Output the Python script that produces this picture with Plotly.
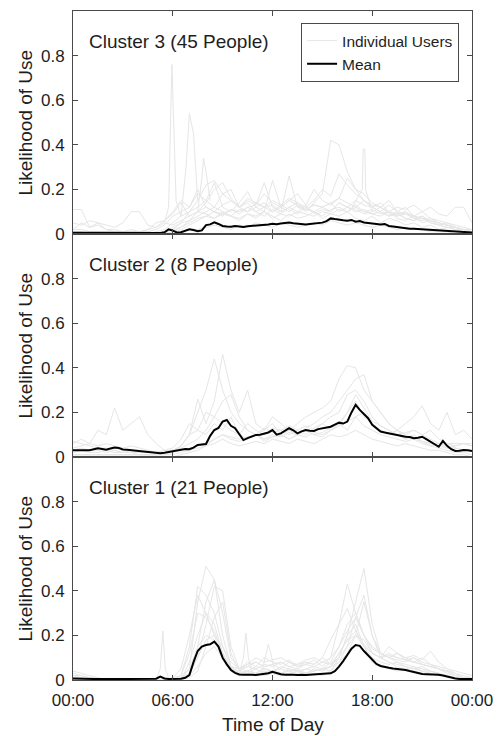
import numpy as np
import plotly.graph_objects as go
from plotly.subplots import make_subplots

# ---------------- DATA ----------------
x_tick_hours = [0, 6, 12, 18, 24]
x_tick_labels = ["00:00", "06:00", "12:00", "18:00", "00:00"]
y_tick_vals = [0, 0.2, 0.4, 0.6, 0.8]
y_tick_labels = ["0", "0.2", "0.4", "0.6", "0.8"]
cluster_titles = ["Cluster 3 (45 People)", "Cluster 2 (8 People)", "Cluster 1 (21 People)"]

# Means: 15-minute grid from 00:00 to 24:00 (97 values)
c3_mean = [0.006, 0.006, 0.005, 0.006, 0.005,
           0.005, 0.004, 0.005, 0.004,
           0.004, 0.004, 0.003, 0.004,
           0.004, 0.003, 0.004, 0.003,
           0.004, 0.003, 0.004, 0.004,
           0.005, 0.008, 0.021, 0.015,
           0.007, 0.008, 0.015, 0.021,
           0.018, 0.012, 0.016, 0.040,
           0.043, 0.052, 0.045, 0.036,
           0.034, 0.033, 0.036, 0.033,
           0.031, 0.035, 0.036, 0.040,
           0.038, 0.042, 0.043, 0.046,
           0.044, 0.047, 0.050, 0.051,
           0.048, 0.046, 0.043, 0.043,
           0.045, 0.047, 0.050, 0.051,
           0.058, 0.070, 0.067, 0.066,
           0.062, 0.060, 0.063, 0.055,
           0.058, 0.052, 0.050, 0.048,
           0.046, 0.043, 0.045, 0.036,
           0.034, 0.031, 0.028, 0.025,
           0.024, 0.023, 0.022, 0.021,
           0.019, 0.018, 0.016, 0.015,
           0.014, 0.012, 0.011, 0.010,
           0.009, 0.008, 0.008, 0.007]

c2_mean = [0.030, 0.031, 0.029, 0.030, 0.030,
           0.033, 0.039, 0.036, 0.033,
           0.038, 0.043, 0.040, 0.034,
           0.032, 0.030, 0.027, 0.024,
           0.022, 0.020, 0.018, 0.016,
           0.017, 0.019, 0.022, 0.027,
           0.029, 0.031, 0.036, 0.035,
           0.042, 0.054, 0.056, 0.058,
           0.095, 0.121, 0.130, 0.159,
           0.166, 0.140, 0.129, 0.100,
           0.076, 0.085, 0.091, 0.099,
           0.100, 0.105, 0.110, 0.121,
           0.100, 0.106, 0.118, 0.129,
           0.120, 0.106, 0.115, 0.121,
           0.118, 0.117, 0.125, 0.129,
           0.130, 0.136, 0.145, 0.154,
           0.150, 0.159, 0.200, 0.234,
           0.211, 0.190, 0.174, 0.144,
           0.130, 0.114, 0.110, 0.106,
           0.104, 0.099, 0.095, 0.091,
           0.090, 0.084, 0.086, 0.091,
           0.080, 0.069, 0.060, 0.046,
           0.072, 0.050, 0.035, 0.027,
           0.028, 0.031, 0.030, 0.027]

c1_mean = [0.007, 0.006, 0.006, 0.005, 0.005,
           0.005, 0.005, 0.004, 0.004,
           0.004, 0.004, 0.004, 0.004,
           0.004, 0.004, 0.004, 0.004,
           0.004, 0.004, 0.005, 0.006,
           0.015, 0.007, 0.005, 0.005,
           0.005, 0.006, 0.010, 0.022,
           0.080, 0.130, 0.150, 0.157,
           0.160, 0.172, 0.150, 0.100,
           0.070, 0.045, 0.032, 0.025,
           0.024, 0.022, 0.023, 0.022,
           0.024, 0.026, 0.030, 0.037,
           0.030, 0.026, 0.024, 0.022,
           0.023, 0.022, 0.024, 0.022,
           0.023, 0.024, 0.025, 0.025,
           0.028, 0.030, 0.040, 0.060,
           0.085, 0.112, 0.140, 0.157,
           0.153, 0.130, 0.112, 0.090,
           0.072, 0.063, 0.058, 0.055,
           0.052, 0.050, 0.047, 0.045,
           0.040, 0.035, 0.030, 0.027,
           0.026, 0.026, 0.025, 0.024,
           0.020, 0.015, 0.010, 0.007,
           0.005, 0.004, 0.004, 0.004]

# Individual users: 30-minute grid from 00:00 to 24:00 (49 values)
c3_u01 = [0.11, 0.11, 0.03, 0.04, 0.02, 0.02, 0.01, 0.02, 0.01, 0.02, 0.05, 0.06,
          0.09, 0.14, 0.08, 0.10, 0.09, 0.07, 0.10, 0.08, 0.06, 0.09, 0.07, 0.10,
          0.08, 0.06, 0.09, 0.07, 0.08, 0.10, 0.07, 0.09, 0.08, 0.10, 0.07, 0.06,
          0.08, 0.05, 0.07, 0.06, 0.04, 0.05, 0.03, 0.04, 0.02, 0.03, 0.02, 0.02, 0.01]
c3_u02 = [0.05, 0.04, 0.06, 0.05, 0.02, 0.01, 0.01, 0.01, 0.01, 0.02, 0.03, 0.06,
          0.10, 0.15, 0.12, 0.20, 0.12, 0.10, 0.08, 0.11, 0.09, 0.12, 0.10, 0.08,
          0.11, 0.09, 0.12, 0.10, 0.13, 0.09, 0.11, 0.10, 0.14, 0.12, 0.10, 0.11,
          0.09, 0.08, 0.10, 0.07, 0.06, 0.08, 0.05, 0.06, 0.04, 0.05, 0.03, 0.02, 0.02]
c3_u03 = [0.02, 0.02, 0.01, 0.01, 0.01, 0.01, 0.01, 0.01, 0.01, 0.01, 0.02, 0.04,
          0.08, 0.10, 0.12, 0.18, 0.15, 0.12, 0.18, 0.20, 0.12, 0.10, 0.14, 0.12,
          0.10, 0.13, 0.11, 0.09, 0.12, 0.10, 0.08, 0.11, 0.12, 0.10, 0.13, 0.10,
          0.09, 0.10, 0.08, 0.09, 0.07, 0.06, 0.07, 0.05, 0.04, 0.03, 0.03, 0.02, 0.02]
c3_u04 = [0.00, 0.01, 0.00, 0.00, 0.00, 0.00, 0.01, 0.00, 0.00, 0.00, 0.01, 0.02,
          0.05, 0.08, 0.10, 0.12, 0.15, 0.23, 0.12, 0.10, 0.14, 0.19, 0.12, 0.10,
          0.24, 0.12, 0.10, 0.13, 0.11, 0.10, 0.12, 0.14, 0.10, 0.12, 0.11, 0.09,
          0.10, 0.12, 0.09, 0.08, 0.10, 0.07, 0.08, 0.06, 0.05, 0.04, 0.03, 0.02, 0.01]
c3_u05 = [0.01, 0.00, 0.00, 0.00, 0.00, 0.00, 0.00, 0.00, 0.00, 0.00, 0.00, 0.01,
          0.03, 0.05, 0.06, 0.08, 0.10, 0.12, 0.10, 0.08, 0.11, 0.10, 0.12, 0.14,
          0.10, 0.12, 0.15, 0.13, 0.10, 0.14, 0.18, 0.42, 0.40, 0.28, 0.20, 0.15,
          0.12, 0.10, 0.13, 0.10, 0.09, 0.08, 0.07, 0.06, 0.05, 0.04, 0.03, 0.02, 0.02]
c3_u06 = [0.00, 0.00, 0.00, 0.00, 0.00, 0.00, 0.00, 0.00, 0.00, 0.00, 0.00, 0.00,
          0.02, 0.03, 0.05, 0.07, 0.08, 0.10, 0.09, 0.11, 0.10, 0.12, 0.13, 0.23,
          0.12, 0.10, 0.26, 0.12, 0.11, 0.13, 0.12, 0.14, 0.16, 0.25, 0.20, 0.18,
          0.14, 0.12, 0.15, 0.10, 0.12, 0.08, 0.10, 0.07, 0.06, 0.05, 0.04, 0.03, 0.02]
c3_u07 = [0.02, 0.05, 0.03, 0.05, 0.04, 0.03, 0.05, 0.10, 0.10, 0.04, 0.03, 0.05,
          0.04, 0.06, 0.08, 0.10, 0.12, 0.10, 0.13, 0.15, 0.12, 0.14, 0.10, 0.12,
          0.13, 0.10, 0.12, 0.14, 0.11, 0.13, 0.12, 0.10, 0.14, 0.12, 0.15, 0.13,
          0.12, 0.14, 0.10, 0.12, 0.11, 0.13, 0.10, 0.12, 0.09, 0.08, 0.12, 0.12, 0.05]
c3_u08 = [0.00, 0.00, 0.00, 0.00, 0.00, 0.00, 0.00, 0.00, 0.00, 0.00, 0.00, 0.01,
          0.02, 0.05, 0.10, 0.15, 0.22, 0.24, 0.18, 0.15, 0.12, 0.16, 0.14, 0.12,
          0.15, 0.13, 0.16, 0.14, 0.12, 0.15, 0.20, 0.17, 0.27, 0.22, 0.18, 0.15,
          0.13, 0.12, 0.10, 0.09, 0.10, 0.08, 0.07, 0.06, 0.05, 0.04, 0.03, 0.02, 0.01]
c3_u09 = [0.00, 0.00, 0.00, 0.00, 0.00, 0.00, 0.00, 0.00, 0.00, 0.00, 0.00, 0.00,
          0.00, 0.01, 0.02, 0.02, 0.03, 0.04, 0.03, 0.02, 0.04, 0.03, 0.05, 0.04,
          0.03, 0.05, 0.04, 0.03, 0.04, 0.05, 0.04, 0.06, 0.05, 0.04, 0.05, 0.04,
          0.03, 0.04, 0.03, 0.02, 0.03, 0.02, 0.02, 0.01, 0.01, 0.01, 0.00, 0.00, 0.00]
c3_u10 = [0.01, 0.01, 0.00, 0.00, 0.00, 0.00, 0.00, 0.00, 0.00, 0.00, 0.00, 0.00,
          0.01, 0.02, 0.04, 0.06, 0.08, 0.07, 0.09, 0.08, 0.07, 0.09, 0.08, 0.10,
          0.07, 0.09, 0.08, 0.10, 0.09, 0.08, 0.10, 0.09, 0.11, 0.10, 0.12, 0.10,
          0.11, 0.09, 0.10, 0.08, 0.09, 0.07, 0.06, 0.07, 0.05, 0.04, 0.03, 0.02, 0.01]
c3_u11 = [0.00, 0.00, 0.00, 0.00, 0.00, 0.00, 0.00, 0.00, 0.00, 0.00, 0.00, 0.00,
          0.01, 0.03, 0.06, 0.10, 0.14, 0.20, 0.23, 0.16, 0.12, 0.15, 0.13, 0.18,
          0.14, 0.12, 0.15, 0.18, 0.13, 0.20, 0.15, 0.13, 0.16, 0.14, 0.12, 0.15,
          0.12, 0.10, 0.08, 0.10, 0.07, 0.06, 0.08, 0.05, 0.04, 0.03, 0.02, 0.01, 0.00]

# Narrow spikes of individual users (hours, values)
c3_spike1_h = [5.5, 5.75, 5.95, 6.2, 6.5]
c3_spike1_v = [0.05, 0.12, 0.76, 0.15, 0.08]
c3_spike2_h = [6.5, 6.8, 7.0, 7.25, 7.5]
c3_spike2_v = [0.08, 0.30, 0.54, 0.45, 0.15]
c3_spike3_h = [7.5, 7.75, 7.85, 8.0, 8.25]
c3_spike3_v = [0.10, 0.25, 0.34, 0.28, 0.15]
c3_spike4_h = [16.8, 17.4, 17.45, 17.55, 17.6, 18.0]
c3_spike4_v = [0.12, 0.20, 0.38, 0.38, 0.20, 0.10]

c2_u01 = [0.06, 0.08, 0.06, 0.12, 0.10, 0.22, 0.12, 0.15, 0.18, 0.10, 0.06, 0.03,
          0.02, 0.05, 0.10, 0.12, 0.10, 0.15, 0.12, 0.18, 0.10, 0.08, 0.10, 0.07,
          0.09, 0.10, 0.08, 0.10, 0.12, 0.10, 0.09, 0.12, 0.15, 0.12, 0.18, 0.20,
          0.15, 0.12, 0.10, 0.12, 0.08, 0.10, 0.07, 0.05, 0.06, 0.04, 0.05, 0.06, 0.05]
c2_u02 = [0.01, 0.01, 0.01, 0.01, 0.01, 0.01, 0.01, 0.01, 0.01, 0.01, 0.01, 0.01,
          0.02, 0.05, 0.10, 0.20, 0.30, 0.44, 0.30, 0.20, 0.15, 0.12, 0.10, 0.12,
          0.15, 0.10, 0.12, 0.15, 0.18, 0.20, 0.22, 0.25, 0.35, 0.41, 0.40, 0.30,
          0.25, 0.20, 0.15, 0.12, 0.10, 0.08, 0.06, 0.05, 0.04, 0.03, 0.02, 0.02, 0.01]
c2_u03 = [0.03, 0.04, 0.03, 0.03, 0.02, 0.03, 0.02, 0.02, 0.02, 0.02, 0.02, 0.02,
          0.03, 0.05, 0.10, 0.26, 0.15, 0.25, 0.46, 0.30, 0.20, 0.30, 0.15, 0.12,
          0.18, 0.15, 0.12, 0.10, 0.13, 0.15, 0.18, 0.20, 0.25, 0.30, 0.35, 0.37,
          0.25, 0.20, 0.15, 0.12, 0.10, 0.12, 0.10, 0.08, 0.06, 0.05, 0.04, 0.03, 0.03]
c2_u04 = [0.07, 0.06, 0.05, 0.04, 0.04, 0.03, 0.02, 0.02, 0.01, 0.01, 0.01, 0.02,
          0.02, 0.03, 0.04, 0.05, 0.06, 0.08, 0.10, 0.08, 0.07, 0.08, 0.10, 0.08,
          0.09, 0.10, 0.08, 0.10, 0.12, 0.10, 0.11, 0.13, 0.15, 0.20, 0.25, 0.18,
          0.15, 0.12, 0.10, 0.12, 0.15, 0.18, 0.23, 0.15, 0.12, 0.20, 0.10, 0.12, 0.08]
c2_u05 = [0.00, 0.00, 0.00, 0.00, 0.00, 0.00, 0.00, 0.00, 0.00, 0.00, 0.00, 0.00,
          0.00, 0.01, 0.02, 0.03, 0.05, 0.06, 0.08, 0.06, 0.05, 0.06, 0.07, 0.06,
          0.08, 0.07, 0.06, 0.08, 0.07, 0.06, 0.08, 0.10, 0.09, 0.10, 0.12, 0.10,
          0.08, 0.07, 0.06, 0.05, 0.06, 0.05, 0.04, 0.03, 0.03, 0.02, 0.01, 0.01, 0.00]
c2_u06 = [0.02, 0.03, 0.02, 0.02, 0.03, 0.02, 0.02, 0.03, 0.02, 0.02, 0.02, 0.03,
          0.03, 0.04, 0.06, 0.08, 0.12, 0.18, 0.25, 0.28, 0.18, 0.12, 0.10, 0.13,
          0.11, 0.12, 0.10, 0.12, 0.14, 0.12, 0.15, 0.18, 0.20, 0.28, 0.30, 0.25,
          0.18, 0.14, 0.12, 0.10, 0.08, 0.09, 0.07, 0.06, 0.05, 0.04, 0.04, 0.03, 0.03]
c2_u07 = [0.04, 0.05, 0.06, 0.05, 0.06, 0.05, 0.04, 0.05, 0.04, 0.03, 0.02, 0.03,
          0.04, 0.08, 0.15, 0.12, 0.20, 0.18, 0.15, 0.12, 0.10, 0.15, 0.12, 0.10,
          0.13, 0.12, 0.14, 0.12, 0.10, 0.13, 0.15, 0.12, 0.14, 0.20, 0.28, 0.22,
          0.16, 0.14, 0.12, 0.10, 0.11, 0.12, 0.10, 0.12, 0.08, 0.06, 0.05, 0.06, 0.05]
c2_u08 = [0.01, 0.01, 0.01, 0.01, 0.01, 0.01, 0.01, 0.01, 0.01, 0.01, 0.01, 0.01,
          0.01, 0.02, 0.03, 0.04, 0.05, 0.08, 0.10, 0.09, 0.08, 0.09, 0.10, 0.08,
          0.10, 0.09, 0.11, 0.10, 0.09, 0.11, 0.10, 0.12, 0.14, 0.16, 0.18, 0.14,
          0.12, 0.10, 0.09, 0.08, 0.07, 0.08, 0.07, 0.06, 0.06, 0.06, 0.06, 0.06, 0.06]

c1_u01 = [0.02, 0.02, 0.01, 0.01, 0.00, 0.00, 0.00, 0.00, 0.00, 0.00, 0.00, 0.00,
          0.00, 0.01, 0.05, 0.35, 0.51, 0.45, 0.30, 0.10, 0.05, 0.04, 0.06, 0.05,
          0.04, 0.06, 0.05, 0.04, 0.05, 0.06, 0.05, 0.08, 0.15, 0.25, 0.30, 0.20,
          0.12, 0.10, 0.08, 0.07, 0.06, 0.05, 0.04, 0.04, 0.03, 0.02, 0.01, 0.01, 0.00]
c1_u02 = [0.00, 0.00, 0.00, 0.00, 0.00, 0.00, 0.00, 0.00, 0.00, 0.00, 0.00, 0.00,
          0.01, 0.02, 0.15, 0.42, 0.38, 0.30, 0.15, 0.06, 0.03, 0.04, 0.03, 0.05,
          0.04, 0.03, 0.05, 0.04, 0.03, 0.04, 0.05, 0.06, 0.10, 0.20, 0.35, 0.50,
          0.25, 0.12, 0.10, 0.08, 0.07, 0.06, 0.05, 0.04, 0.03, 0.02, 0.01, 0.00, 0.00]
c1_u03 = [0.01, 0.01, 0.00, 0.00, 0.00, 0.00, 0.00, 0.00, 0.00, 0.00, 0.00, 0.00,
          0.00, 0.01, 0.03, 0.10, 0.25, 0.42, 0.40, 0.15, 0.05, 0.06, 0.08, 0.06,
          0.07, 0.05, 0.08, 0.06, 0.07, 0.09, 0.06, 0.10, 0.25, 0.43, 0.30, 0.20,
          0.14, 0.12, 0.10, 0.12, 0.09, 0.08, 0.10, 0.07, 0.05, 0.03, 0.02, 0.01, 0.01]
c1_u04 = [0.00, 0.00, 0.00, 0.00, 0.00, 0.00, 0.00, 0.00, 0.00, 0.00, 0.00, 0.00,
          0.00, 0.00, 0.08, 0.20, 0.30, 0.25, 0.12, 0.05, 0.04, 0.06, 0.05, 0.07,
          0.06, 0.08, 0.06, 0.05, 0.07, 0.06, 0.08, 0.10, 0.15, 0.22, 0.28, 0.20,
          0.15, 0.12, 0.10, 0.12, 0.10, 0.11, 0.09, 0.13, 0.08, 0.05, 0.03, 0.02, 0.01]
c1_u05 = [0.02, 0.01, 0.00, 0.00, 0.00, 0.00, 0.00, 0.00, 0.00, 0.00, 0.00, 0.00,
          0.01, 0.05, 0.20, 0.38, 0.30, 0.20, 0.10, 0.04, 0.02, 0.03, 0.02, 0.04,
          0.03, 0.02, 0.03, 0.04, 0.03, 0.05, 0.04, 0.06, 0.08, 0.12, 0.20, 0.35,
          0.20, 0.10, 0.08, 0.06, 0.05, 0.06, 0.04, 0.03, 0.02, 0.02, 0.01, 0.01, 0.00]
c1_u06 = [0.00, 0.00, 0.00, 0.00, 0.00, 0.00, 0.00, 0.00, 0.00, 0.00, 0.00, 0.00,
          0.00, 0.00, 0.03, 0.10, 0.18, 0.20, 0.15, 0.08, 0.05, 0.07, 0.10, 0.08,
          0.09, 0.10, 0.08, 0.07, 0.09, 0.10, 0.08, 0.07, 0.10, 0.15, 0.20, 0.18,
          0.12, 0.10, 0.12, 0.10, 0.09, 0.08, 0.07, 0.06, 0.05, 0.04, 0.03, 0.01, 0.00]
c1_u07 = [0.00, 0.00, 0.00, 0.00, 0.00, 0.00, 0.00, 0.00, 0.00, 0.00, 0.00, 0.00,
          0.00, 0.00, 0.02, 0.15, 0.35, 0.45, 0.20, 0.06, 0.03, 0.02, 0.03, 0.02,
          0.03, 0.02, 0.03, 0.02, 0.02, 0.03, 0.02, 0.04, 0.10, 0.20, 0.25, 0.15,
          0.08, 0.06, 0.05, 0.04, 0.05, 0.04, 0.03, 0.03, 0.02, 0.02, 0.01, 0.00, 0.00]
c1_u08 = [0.03, 0.02, 0.01, 0.00, 0.00, 0.00, 0.00, 0.00, 0.00, 0.00, 0.00, 0.00,
          0.00, 0.02, 0.12, 0.30, 0.28, 0.22, 0.12, 0.06, 0.05, 0.08, 0.06, 0.10,
          0.08, 0.07, 0.09, 0.06, 0.08, 0.07, 0.10, 0.18, 0.25, 0.32, 0.22, 0.15,
          0.12, 0.10, 0.15, 0.12, 0.10, 0.08, 0.07, 0.06, 0.05, 0.04, 0.02, 0.01, 0.01]
c1_u09 = [0.00, 0.00, 0.00, 0.00, 0.00, 0.00, 0.00, 0.00, 0.00, 0.00, 0.00, 0.00,
          0.00, 0.00, 0.02, 0.06, 0.12, 0.15, 0.10, 0.05, 0.03, 0.04, 0.03, 0.05,
          0.04, 0.05, 0.04, 0.03, 0.05, 0.04, 0.05, 0.06, 0.12, 0.18, 0.20, 0.15,
          0.10, 0.08, 0.07, 0.08, 0.06, 0.05, 0.06, 0.04, 0.03, 0.02, 0.01, 0.00, 0.00]
c1_u10 = [0.00, 0.00, 0.00, 0.00, 0.00, 0.00, 0.00, 0.00, 0.00, 0.00, 0.00, 0.00,
          0.00, 0.00, 0.01, 0.04, 0.15, 0.28, 0.35, 0.12, 0.04, 0.03, 0.05, 0.03,
          0.04, 0.03, 0.04, 0.05, 0.03, 0.04, 0.05, 0.04, 0.08, 0.15, 0.28, 0.38,
          0.20, 0.12, 0.10, 0.09, 0.08, 0.10, 0.07, 0.06, 0.05, 0.04, 0.02, 0.01, 0.00]
c1_u11 = [0.04, 0.03, 0.02, 0.01, 0.00, 0.00, 0.00, 0.00, 0.00, 0.00, 0.00, 0.00,
          0.00, 0.01, 0.05, 0.15, 0.20, 0.18, 0.10, 0.06, 0.05, 0.07, 0.08, 0.06,
          0.07, 0.08, 0.06, 0.07, 0.08, 0.07, 0.10, 0.07, 0.12, 0.18, 0.22, 0.16,
          0.12, 0.10, 0.11, 0.10, 0.09, 0.10, 0.08, 0.07, 0.06, 0.05, 0.04, 0.03, 0.02]

c1_spike1_h = [5.0, 5.25, 5.4, 5.55, 5.8]
c1_spike1_v = [0.00, 0.05, 0.22, 0.05, 0.00]
c1_spike2_h = [10.0, 10.25, 10.4, 10.55, 10.8]
c1_spike2_v = [0.03, 0.10, 0.21, 0.10, 0.03]
c1_spike3_h = [11.4, 11.6, 11.75, 11.9, 12.1]
c1_spike3_v = [0.05, 0.12, 0.16, 0.12, 0.05]

# ---------------- FIGURE ----------------
GRAY = "#e6e6e6"
AXIS = "#4a4a4a"
TEXT = "#1e1e1e"
FONT = "Liberation Sans, Arial, sans-serif"

panels = [
    ([c3_u01, c3_u02, c3_u03, c3_u04, c3_u05, c3_u06, c3_u07, c3_u08, c3_u09, c3_u10, c3_u11],
     [(c3_spike1_h, c3_spike1_v), (c3_spike2_h, c3_spike2_v),
      (c3_spike3_h, c3_spike3_v), (c3_spike4_h, c3_spike4_v)],
     c3_mean),
    ([c2_u01, c2_u02, c2_u03, c2_u04, c2_u05, c2_u06, c2_u07, c2_u08],
     [],
     c2_mean),
    ([c1_u01, c1_u02, c1_u03, c1_u04, c1_u05, c1_u06, c1_u07, c1_u08, c1_u09, c1_u10, c1_u11],
     [(c1_spike1_h, c1_spike1_v), (c1_spike2_h, c1_spike2_v), (c1_spike3_h, c1_spike3_v)],
     c1_mean),
]

fig = make_subplots(rows=3, cols=1, shared_xaxes=True, vertical_spacing=0)

for r, (users, spikes, mean) in enumerate(panels, start=1):
    first = True
    for u in users:
        fig.add_trace(go.Scatter(
            x=np.linspace(0, 24, len(u)), y=u, mode="lines",
            line=dict(color=GRAY, width=1),
            name="Individual Users", legendgroup="ind", legendrank=1,
            showlegend=(r == 1 and first), hoverinfo="skip"), row=r, col=1)
        first = False
    for h, v in spikes:
        fig.add_trace(go.Scatter(
            x=h, y=v, mode="lines", line=dict(color=GRAY, width=1),
            name="Individual Users", legendgroup="ind",
            showlegend=False, hoverinfo="skip"), row=r, col=1)
    fig.add_trace(go.Scatter(
        x=np.linspace(0, 24, len(mean)), y=mean, mode="lines",
        line=dict(color="black", width=2),
        name="Mean", legendgroup="mean", legendrank=2,
        showlegend=(r == 1)), row=r, col=1)

fig.update_xaxes(range=[0, 24], tickvals=x_tick_hours, ticktext=x_tick_labels,
                 ticks="inside", ticklen=5, tickcolor=AXIS, showline=True,
                 linecolor=AXIS, linewidth=1, mirror="ticks", showgrid=False,
                 zeroline=False, ticklabelstandoff=5,
                 tickfont=dict(size=17, color=TEXT, family=FONT))
fig.update_yaxes(range=[0, 1], tickvals=y_tick_vals, ticktext=y_tick_labels,
                 ticks="inside", ticklen=5, tickcolor=AXIS, showline=True,
                 linecolor=AXIS, linewidth=1, mirror="ticks", showgrid=False,
                 zeroline=False, ticklabelstandoff=4,
                 tickfont=dict(size=17, color=TEXT, family=FONT))

annotations = []
for r, title in enumerate(cluster_titles, start=1):
    suffix = "" if r == 1 else str(r)
    annotations.append(dict(
        text=title, xref="x%s domain" % suffix, yref="y%s domain" % suffix,
        x=0.035, y=0.862, xanchor="left", yanchor="middle", showarrow=False,
        font=dict(size=19, color=TEXT, family=FONT)))
    annotations.append(dict(
        text="Likelihood of Use", xref="paper", yref="y%s domain" % suffix,
        x=-0.12, y=0.5, xanchor="center", yanchor="middle", textangle=-90,
        showarrow=False, font=dict(size=19, color=TEXT, family=FONT)))
annotations.append(dict(
    text="Time of Day", xref="paper", yref="paper", x=0.5, y=-0.067,
    xanchor="center", yanchor="middle", showarrow=False,
    font=dict(size=19, color=TEXT, family=FONT)))

fig.update_layout(
    width=503, height=736,
    margin=dict(l=73, r=29, t=10, b=56),
    paper_bgcolor="white", plot_bgcolor="white",
    annotations=annotations,
    legend=dict(x=0.9676, y=0.982, xanchor="right", yanchor="top",
                bordercolor=AXIS, borderwidth=1, bgcolor="white",
                font=dict(size=15.5, color=TEXT, family=FONT),
                tracegroupgap=0, traceorder="normal"),
    showlegend=True,
)

fig.write_html("out.html", config={"displayModeBar": False},
               post_script="document.body.style.margin='0';document.body.style.overflow='hidden';")
